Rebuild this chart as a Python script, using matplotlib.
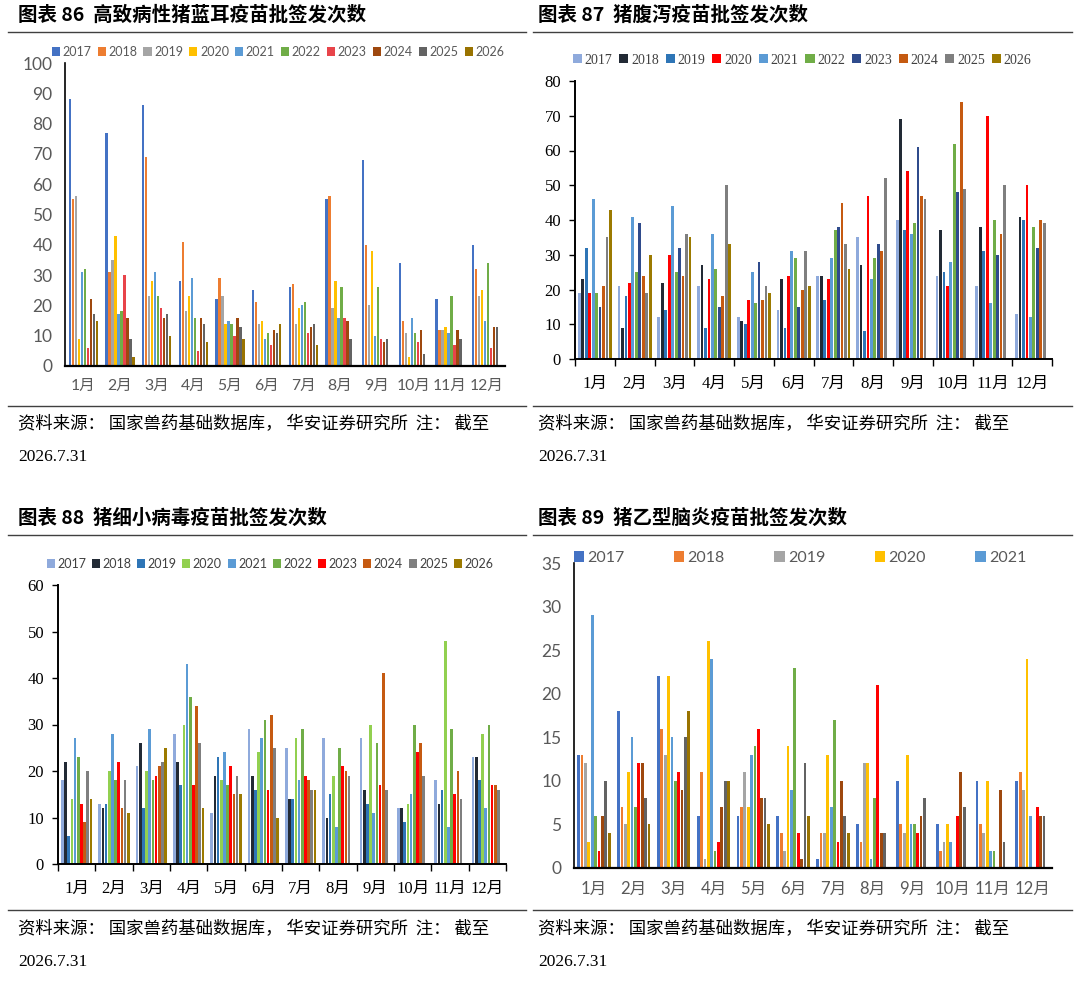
import numpy as np
import matplotlib
matplotlib.use("Agg")
import matplotlib.pyplot as plt
from matplotlib.lines import Line2D

plt.rcParams['font.family'] = ['Noto Sans CJK SC', 'DejaVu Sans']

months = [f"{m}月" for m in range(1, 13)]
years = [str(y) for y in range(2017, 2027)]
nan = np.nan

# 图表86 高致病性猪蓝耳疫苗 (rows = 2017..2026)
blue_ear = [
    [88, 77, 86, 28, 22, 25, 26, 55, 68, 34, 22, 40],
    [55, 31, 69, 41, 29, 21, 27, 56, 40, 15, 12, 32],
    [56, 35, 23, 18, 23, 14, 14, 19, 20, 11, 12, 23],
    [9, 43, 28, 23, 14, 15, 19, 28, 38, 3, 13, 25],
    [31, 17, 31, 29, 15, 9, 20, 16, 10, 16, 11, 15],
    [32, 18, 23, 16, 14, 11, 21, 26, 26, 11, 23, 34],
    [6, 30, 19, 5, 10, 7, 11, 16, 9, 8, 7, 6],
    [22, 16, 16, 16, 16, 12, 13, 15, 8, 12, 12, 13],
    [17, 9, 17, 14, 13, 11, 14, 9, 9, 4, 9, 13],
    [15, 3, 10, 8, 9, 14, 7, nan, nan, nan, nan, nan],
]

# 图表87 猪腹泻疫苗
diarrhea = [
    [19, 21, 12, 21, 12, 14, 24, 35, 40, 24, 21, 13],
    [23, 9, 22, 27, 11, 23, 24, 27, 69, 37, 38, 41],
    [32, 18, 14, 9, 10, 9, 17, 8, 37, 25, 31, 40],
    [19, 22, 30, 23, 17, 24, 23, 47, 54, 21, 70, 50],
    [46, 41, 44, 36, 25, 31, 29, 23, 36, 28, 16, 12],
    [19, 25, 25, 26, 16, 29, 37, 29, 39, 62, 40, 38],
    [15, 39, 32, 15, 28, 15, 38, 33, 61, 48, 30, 32],
    [21, 24, 24, 18, 17, 20, 45, 31, 47, 74, 36, 40],
    [35, 19, 36, 50, 21, 31, 33, 52, 46, 49, 50, 39],
    [43, 30, 35, 33, 19, 21, 26, nan, nan, nan, nan, nan],
]

# 图表88 猪细小病毒疫苗
parvo = [
    [18, 13, 21, 28, 11, 29, 25, 27, 27, 12, 18, 23],
    [22, 12, 26, 22, 19, 19, 14, 10, 16, 12, 13, 23],
    [6, 13, 12, 17, 23, 16, 14, 15, 13, 9, 16, 18],
    [14, 20, 20, 30, 18, 24, 27, 19, 30, 13, 48, 28],
    [27, 28, 29, 43, 24, 27, 18, 8, 11, 15, 8, 12],
    [23, 18, 18, 36, 17, 31, 29, 25, 26, 30, 29, 30],
    [13, 22, 19, 17, 21, 16, 19, 21, 17, 24, 15, 17],
    [9, 12, 21, 34, 15, 32, 18, 20, 41, 26, 20, 17],
    [20, 18, 22, 26, 19, 25, 16, 19, 16, 19, 14, 16],
    [14, 11, 25, 12, 15, 10, 16, nan, nan, nan, nan, nan],
]

# 图表89 猪乙型脑炎疫苗
encephalitis = [
    [13, 18, 22, 6, 6, 6, 1, 5, 10, 5, 10, 10],
    [13, 7, 16, 11, 7, 4, 4, 3, 5, 2, 5, 11],
    [12, 5, 13, 1, 11, 2, 4, 12, 4, 3, 4, 9],
    [3, 11, 22, 26, 7, 14, 13, 12, 13, 5, 10, 24],
    [29, 15, 15, 24, 13, 9, 7, 1, 5, 3, 2, 6],
    [6, 7, 10, 2, 14, 23, 17, 8, 5, 0, 2, 0],
    [2, 12, 11, 3, 16, 4, 3, 21, 4, 6, 0, 7],
    [6, 12, 9, 7, 8, 1, 10, 4, 6, 11, 9, 6],
    [10, 8, 15, 10, 8, 12, 6, 4, 8, 7, 3, 6],
    [4, 5, 18, 10, 5, 6, 4, nan, nan, nan, nan, nan],
]

office = ['#4472C4', '#ED7D31', '#A5A5A5', '#FFC000', '#5B9BD5',
          '#70AD47', '#FF0000', '#9E480E', '#636363', '#997300']
colors86 = office[:6] + ['#E8444A'] + office[7:]
colors87 = ['#8FAADC', '#222A35', '#2E75B6', '#FF0000', '#5B9BD5',
            '#70AD47', '#2F4B8C', '#C55A11', '#7F7F7F', '#9C7A00']
colors88 = ['#8FAADC', '#222A35', '#2E75B6', '#92D050', '#5B9BD5',
            '#70AD47', '#FF0000', '#C55A11', '#7F7F7F', '#9C7A00']
colors89 = office

W, H = 1080, 981
fig = plt.figure(figsize=(W / 100, H / 100), dpi=100)

SANS = ['Lato', 'Noto Sans CJK SC']
SERIF = ['Liberation Serif', 'Noto Sans CJK SC']


def add_ax(l, t, r, b):
    return fig.add_axes([l / W, 1 - b / H, (r - l) / W, (b - t) / H])


def draw_bars(ax, data, cols, group=0.84):
    step = group / len(data)
    x = np.arange(len(months))
    for k, row in enumerate(data):
        ax.bar(x + (k - (len(data) - 1) / 2) * step, row, width=step * 0.82,
               color=cols[k], label=years[k], linewidth=0)
    ax.set_xlim(-0.5, len(months) - 0.5)
    ax.set_xticks(x)
    ax.set_xticklabels(months)
    for s in ('top', 'right'):
        ax.spines[s].set_visible(False)
    ax.set_facecolor('none')


def style_excel(ax, ymax, ystep, ysize=12.5, xsize=12):
    ax.set_ylim(0, ymax)
    ax.set_yticks(np.arange(0, ymax + 1, ystep))
    ax.tick_params(length=0, pad=9, labelcolor='#595959')
    ax.tick_params(axis='y', labelsize=ysize)
    ax.tick_params(axis='x', labelsize=xsize)
    for lab in ax.get_xticklabels() + ax.get_yticklabels():
        lab.set_family(SANS)
    ax.spines['left'].set_color('black')
    ax.spines['bottom'].set_color('black')
    ax.spines['left'].set_linewidth(1.2)
    ax.spines['bottom'].set_linewidth(1.6)


def style_serif(ax, ymax, ystep):
    ax.set_ylim(0, ymax)
    ax.set_yticks(np.arange(0, ymax + 1, ystep))
    ax.tick_params(axis='y', direction='out', length=4, width=1, pad=6,
                   labelsize=12)
    ax.tick_params(axis='x', length=0, pad=12, labelsize=12)
    ax.set_xticks(np.arange(-0.5, len(months), 1), minor=True)
    ax.tick_params(axis='x', which='minor', direction='out', length=5, width=1)
    for lab in ax.get_xticklabels() + ax.get_yticklabels():
        lab.set_family(SERIF)
    ax.spines['left'].set_linewidth(1.4)
    ax.spines['bottom'].set_linewidth(1.4)


def legend(ax, cx, cy, n, fam, size, spacing, color):
    h, l = ax.get_legend_handles_labels()
    leg = ax.legend(h[:n], l[:n], ncol=n, loc='center',
                    bbox_to_anchor=(cx / W, 1 - cy / H),
                    bbox_transform=fig.transFigure, frameon=False,
                    handlelength=0.65, handleheight=0.65, handletextpad=0.2,
                    columnspacing=spacing, prop={'family': fam, 'size': size})
    for t in leg.get_texts():
        t.set_color(color)


# panel 86
ax1 = add_ax(65, 63, 505, 366)
draw_bars(ax1, blue_ear, colors86, group=0.82)
style_excel(ax1, 100, 10, ysize=12.5, xsize=11.3)
legend(ax1, 278, 52, 10, SANS, 9, 0.5, '#595959')

# panel 87
ax2 = add_ax(575, 81, 1052, 359)
draw_bars(ax2, diarrhea, colors87, group=0.87)
style_serif(ax2, 80, 10)
legend(ax2, 802, 60, 10, SERIF, 10, 0.5, '#404040')

# panel 88
ax3 = add_ax(58, 585, 506, 864)
draw_bars(ax3, parvo, colors88, group=0.85)
style_serif(ax3, 60, 10)
legend(ax3, 270, 564, 10, SANS, 9, 0.45, '#404040')

# panel 89
ax4 = add_ax(574, 563, 1052, 868)
draw_bars(ax4, encephalitis, colors89, group=0.85)
style_excel(ax4, 35, 5, ysize=12.5, xsize=12)
legend(ax4, 800, 558, 5, SANS, 11.5, 3.1, '#595959')

# titles, rules and sources
titles = [(18, 15, '图表 86  高致病性猪蓝耳疫苗批签发次数'),
          (538, 15, '图表 87  猪腹泻疫苗批签发次数'),
          (18, 518, '图表 88  猪细小病毒疫苗批签发次数'),
          (538, 518, '图表 89  猪乙型脑炎疫苗批签发次数')]
for x, y, s in titles:
    fig.text(x / W, 1 - y / H, s, fontsize=14, fontweight='bold',
             va='center', ha='left', family=['Noto Sans CJK SC', 'DejaVu Sans'])

rules = [(8, 526, 32), (533, 1072, 32), (8, 526, 406), (533, 1072, 406),
         (8, 526, 535), (533, 1072, 535), (8, 526, 910), (533, 1072, 910)]
for x0, x1, y in rules:
    fig.add_artist(Line2D([x0 / W, x1 / W], [1 - y / H, 1 - y / H],
                          color='#404040', lw=1.0, transform=fig.transFigure))

src = '资料来源： 国家兽药基础数据库， 华安证券研究所  注： 截至'
for x, y in [(18, 424), (538, 424), (18, 929), (538, 929)]:
    fig.text(x / W, 1 - y / H, src, fontsize=12.5, va='center', ha='left',
             family=['Noto Sans CJK SC', 'DejaVu Sans'])
    fig.text(x / W, 1 - (y + 33) / H, '2026.7.31', fontsize=12.5,
             va='center', ha='left', family='Liberation Serif')

fig.savefig('out.png', dpi=100)
